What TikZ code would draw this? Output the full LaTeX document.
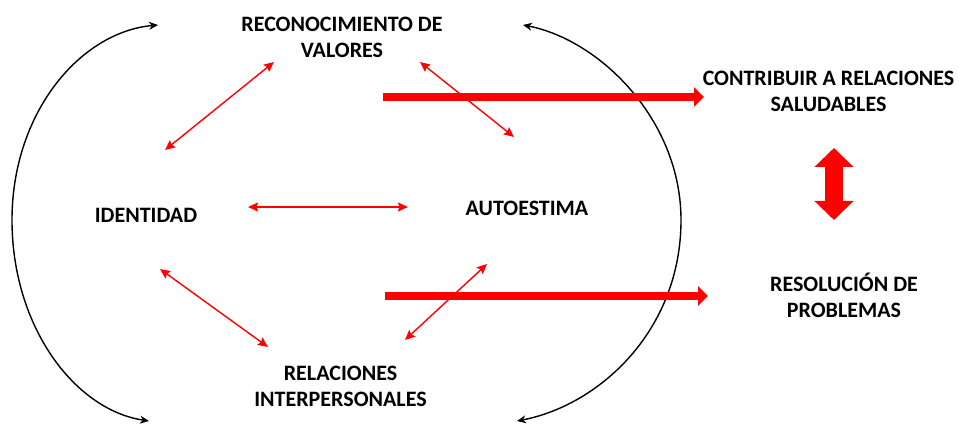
\documentclass[tikz,border=0pt]{standalone}
\usepackage{fontspec}
\setmainfont{Carlito}
\usetikzlibrary{arrows.meta}
\tikzset{
  lbl/.style={inner sep=0pt, align=center, font=\fontsize{22}{26}\selectfont\bfseries},
  thin/.style={draw=red, line width=1.4pt, {Stealth[length=10pt,width=9pt,inset=1.5pt]}-{Stealth[length=10pt,width=9pt,inset=1.5pt]}},
  thick/.style={draw=red, line width=8pt, -{Triangle[length=10pt,width=19pt]}},
  loop/.style={draw=black, line width=1.4pt, {Stealth[length=9pt,width=8pt]}-{Stealth[length=9pt,width=8pt]}},
  big/.style={draw=red, line width=18pt, {Triangle[length=19pt,width=38pt]}-{Triangle[length=19pt,width=38pt]}}
}
\begin{document}
\begin{tikzpicture}[x=1pt,y=-1pt]
\useasboundingbox (0,0) rectangle (959,425);
% labels
\node[lbl] (rec) at (342,37.5) {RECONOCIMIENTO DE\\VALORES};
\node[lbl] (ide) at (146,215) {IDENTIDAD};
\node[lbl] (aut) at (527,208.5) {AUTOESTIMA};
\node[lbl] (rel) at (340.5,386.5) {RELACIONES\\INTERPERSONALES};
\node[lbl] (con) at (828.5,91.5) {CONTRIBUIR A RELACIONES\\SALUDABLES};
\node[lbl] (res) at (844,295) {RESOLUCIÓN DE\\PROBLEMAS};
% endpoints
\coordinate (a1) at (165,150); \coordinate (a2) at (274,62);
\coordinate (b1) at (420,62);  \coordinate (b2) at (514,137);
\coordinate (c1) at (248,207); \coordinate (c2) at (408,207);
\coordinate (d1) at (160,269); \coordinate (d2) at (268,347);
\coordinate (e1) at (487,264); \coordinate (e2) at (405,340);
\coordinate (t1) at (383,97);  \coordinate (t2) at (704,97);
\coordinate (u1) at (385,296); \coordinate (u2) at (708,296);
\coordinate (v1) at (834,148); \coordinate (v2) at (834,220);
\coordinate (lt) at (158,25);  \coordinate (lm) at (12,220); \coordinate (lb) at (149,421);
\coordinate (rt) at (523,25);  \coordinate (rm) at (681,220); \coordinate (rb) at (517,421);
% black loops
\draw[loop] (lt) .. controls (80,32) and (12,113) .. (lm) .. controls (12,327) and (75,410) .. (lb);
\draw[loop] (rt) .. controls (600,40) and (681,120) .. (rm) .. controls (681,330) and (600,405) .. (rb);
% thin red arrows
\draw[thin] (a1) -- (a2);
\draw[thin] (b1) -- (b2);
\draw[thin] (c1) -- (c2);
\draw[thin] (d1) -- (d2);
\draw[thin] (e1) -- (e2);
% thick arrows
\draw[thick] (t1) -- (t2);
\draw[thick] (u1) -- (u2);
\draw[big] (v1) -- (v2);
\end{tikzpicture}
\end{document}
